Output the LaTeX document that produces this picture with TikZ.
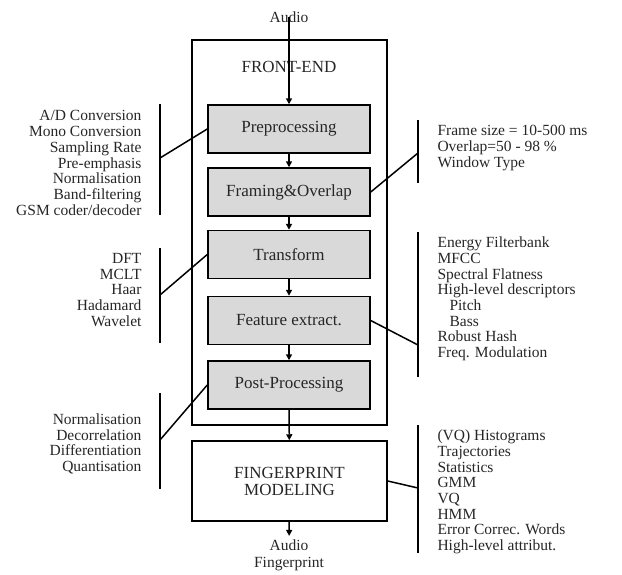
\documentclass[tikz,border=0pt]{standalone}
\usepackage{fontspec}
\setmainfont{Liberation Serif}
\usetikzlibrary{arrows.meta}

\begin{document}
\begin{tikzpicture}[
    x=1pt, y=-1pt,
    every node/.style={text=black!85},
    stage/.style={draw, line width=1.5pt, fill=gray!30, minimum width=162pt, minimum height=48pt, font=\fontsize{17}{20}\selectfont},
    frame/.style={draw, line width=1.5pt, minimum width=195pt},
    arr/.style={-{Triangle[length=6pt,width=6pt]}, line width=1.5pt},
    link/.style={line width=1.5pt},
    bar/.style={line width=1.5pt},
    listL/.style={anchor=east, align=right, font=\fontsize{15.5}{15.7}\selectfont},
    listR/.style={anchor=west, align=left, font=\fontsize{15.5}{15.7}\selectfont},
    io/.style={align=center, font=\fontsize{15.5}{17}\selectfont},
]
\useasboundingbox (0,0) rectangle (622,574);

% front-end and its stages
\node[frame, minimum height=385pt] (front) at (289.5,232.5) {};
\node[font=\fontsize{17}{20}\selectfont] (title) at (289,67) {FRONT-END};
\node[stage] (pre)   at (289,129) {Preprocessing};
\node[stage] (fram)  at (289,192) {Framing\&Overlap};
\node[stage] (trans) at (289,254.5) {Transform};
\node[stage] (feat)  at (289,320.5) {Feature extract.};
\node[stage] (post)  at (289,385) {Post-Processing};
\node[frame, minimum height=80pt, align=center, font=\fontsize{17}{17}\selectfont] (model) at (289.5,481) {FINGERPRINT\\MODELING};

\node[io] (audio) at (289,17) {Audio};
\node[io] (print) at (289,555) {Audio\\Fingerprint};

\draw[arr] (audio.center) -- (pre.north);
\foreach \a/\b in {pre/fram, fram/trans, trans/feat, feat/post, post/model}{
    \draw[arr] (\a) -- (\b);
}
\draw[arr] (model) -- (print);

% left lists
\node[listL] (preList) at (145,163) {A/D Conversion\\Mono Conversion\\Sampling Rate\\Pre-emphasis\\Normalisation\\Band-filtering\\GSM coder/decoder};
\node[listL] (transList) at (145,290) {DFT\\MCLT\\Haar\\Hadamard\\Wavelet};
\node[listL] (postList) at (145,444) {Normalisation\\Decorrelation\\Differentiation\\Quantisation};

\draw[bar] (160,104) -- (160,215);
\draw[bar] (160,248) -- (160,343);
\draw[bar] (160,393) -- (160,489);
\coordinate (preJ)   at (160,158);
\coordinate (transJ) at (160,295);
\coordinate (postJ)  at (160,440);
\draw[link] (pre.west)   -- (preJ);
\draw[link] (trans.west) -- (transJ);
\draw[link] (post.west)  -- (postJ);

% right lists
\node[listR] (framList) at (434,148) {Frame size = 10-500 ms\\Overlap=50 - 98 \%\\Window Type};
\node[listR] (featList) at (434,299) {Energy Filterbank\\MFCC\\Spectral Flatness\\High-level descriptors\\\hspace*{12pt}Pitch\\\hspace*{12pt}Bass\\Robust Hash\\Freq. Modulation};
\node[listR] (modelList) at (434,492) {(VQ) Histograms\\Trajectories\\Statistics\\GMM\\VQ\\HMM\\Error Correc. Words\\High-level attribut.};

\draw[bar] (418,120) -- (418,183);
\draw[bar] (418,232) -- (418,377);
\draw[bar] (418,425) -- (418,553);
\coordinate (framJ)  at (418,153);
\coordinate (featJ)  at (418,345);
\coordinate (modelJ) at (418,488);
\draw[link] (fram.east)  -- (framJ);
\draw[link] (feat.east)  -- (featJ);
\draw[link] (model.east) -- (modelJ);

\end{tikzpicture}
\end{document}
